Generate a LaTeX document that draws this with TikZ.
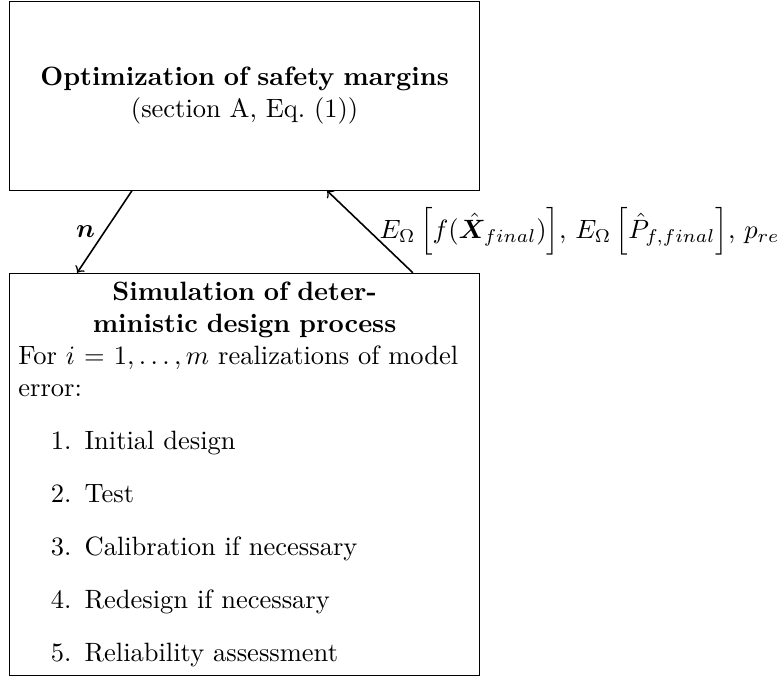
\documentclass[tikz,border=0pt]{standalone}
\usepackage{amsmath,bm}
\usetikzlibrary{positioning}
\begin{document}
\begin{tikzpicture}[
  box/.style={draw, text width=6cm, inner sep=3.333pt},
  conn/.style={->, semithick},
]
\useasboundingbox (0,0) rectangle (294.7pt,-255.5pt);
\node[box, minimum height=2.5cm, align=center, anchor=north west] (opt) at (3.4pt,-0.4pt)
  {\textbf{Optimization of safety margins}\\(section A, Eq.~(1))};
\node[box, anchor=north] (sim) at ([yshift=-31pt]opt.south)
  {{\centering\textbf{Simulation of deter-}\\\textbf{ministic design process}\par}%
   \noindent For $i=1,\ldots,m$ realizations of model error:
   \begin{enumerate}
   \item Initial design
   \item Test
   \item Calibration if necessary
   \item Redesign if necessary
   \item Reliability assessment
   \end{enumerate}};
\draw[conn] ([xshift=46.4pt]opt.south west) -- node[left] {$\bm{n}$} ([xshift=25.7pt]sim.north west);
\draw[conn] ([xshift=152.4pt]sim.north west) -- node[right]
  {$E_\Omega\left[f(\hat{\bm{X}}_{final})\right]$, $E_\Omega\left[\hat{P}_{f,final}\right]$, $p_{re}$}
  ([xshift=120pt]opt.south west);
\end{tikzpicture}
\end{document}
